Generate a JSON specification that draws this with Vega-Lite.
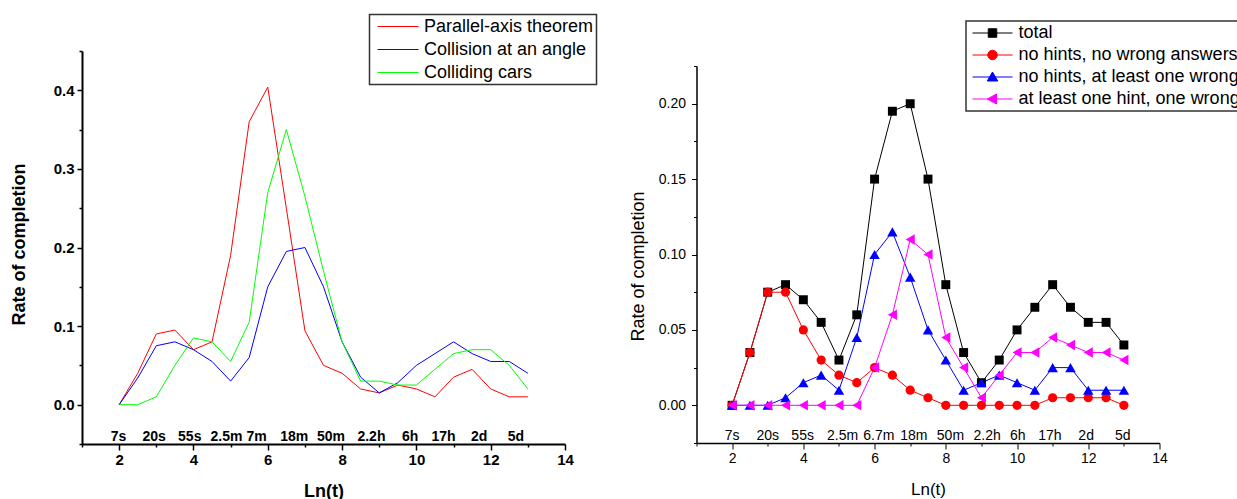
{
  "$schema": "https://vega.github.io/schema/vega-lite/v6.json",
  "padding": {"left": 10, "top": 13, "right": 0, "bottom": 0},
  "spacing": 30.5,
  "resolve": {"scale": {"color": "independent", "x": "independent", "y": "independent"}, "legend": {"color": "independent"}},
  "config": {
    "view": {"stroke": null},
    "font": "Liberation Sans",
    "axis": {"grid": false, "domainColor": "black", "tickColor": "black", "labelColor": "black", "titleColor": "black", "labelOverlap": false, "labelFlush": false}
  },
  "datasets": {
    "left": [
      {"x": 2, "series": "Parallel-axis theorem", "rate": 0},
      {"x": 2.5, "series": "Parallel-axis theorem", "rate": 0.04},
      {"x": 3, "series": "Parallel-axis theorem", "rate": 0.09},
      {"x": 3.5, "series": "Parallel-axis theorem", "rate": 0.095},
      {"x": 4, "series": "Parallel-axis theorem", "rate": 0.07},
      {"x": 4.5, "series": "Parallel-axis theorem", "rate": 0.08},
      {"x": 5, "series": "Parallel-axis theorem", "rate": 0.19},
      {"x": 5.5, "series": "Parallel-axis theorem", "rate": 0.36},
      {"x": 6, "series": "Parallel-axis theorem", "rate": 0.404},
      {"x": 6.5, "series": "Parallel-axis theorem", "rate": 0.25},
      {"x": 7, "series": "Parallel-axis theorem", "rate": 0.094},
      {"x": 7.5, "series": "Parallel-axis theorem", "rate": 0.05},
      {"x": 8, "series": "Parallel-axis theorem", "rate": 0.04},
      {"x": 8.5, "series": "Parallel-axis theorem", "rate": 0.02},
      {"x": 9, "series": "Parallel-axis theorem", "rate": 0.015},
      {"x": 9.5, "series": "Parallel-axis theorem", "rate": 0.025},
      {"x": 10, "series": "Parallel-axis theorem", "rate": 0.02},
      {"x": 10.5, "series": "Parallel-axis theorem", "rate": 0.01},
      {"x": 11, "series": "Parallel-axis theorem", "rate": 0.035},
      {"x": 11.5, "series": "Parallel-axis theorem", "rate": 0.045},
      {"x": 12, "series": "Parallel-axis theorem", "rate": 0.02},
      {"x": 12.5, "series": "Parallel-axis theorem", "rate": 0.01},
      {"x": 13, "series": "Parallel-axis theorem", "rate": 0.01},
      {"x": 2, "series": "Collision at an angle", "rate": 0},
      {"x": 2.5, "series": "Collision at an angle", "rate": 0.034},
      {"x": 3, "series": "Collision at an angle", "rate": 0.075},
      {"x": 3.5, "series": "Collision at an angle", "rate": 0.08},
      {"x": 4, "series": "Collision at an angle", "rate": 0.07},
      {"x": 4.5, "series": "Collision at an angle", "rate": 0.055},
      {"x": 5, "series": "Collision at an angle", "rate": 0.03},
      {"x": 5.5, "series": "Collision at an angle", "rate": 0.06},
      {"x": 6, "series": "Collision at an angle", "rate": 0.15},
      {"x": 6.5, "series": "Collision at an angle", "rate": 0.195},
      {"x": 7, "series": "Collision at an angle", "rate": 0.2},
      {"x": 7.5, "series": "Collision at an angle", "rate": 0.15},
      {"x": 8, "series": "Collision at an angle", "rate": 0.08},
      {"x": 8.5, "series": "Collision at an angle", "rate": 0.035},
      {"x": 9, "series": "Collision at an angle", "rate": 0.015},
      {"x": 9.5, "series": "Collision at an angle", "rate": 0.028},
      {"x": 10, "series": "Collision at an angle", "rate": 0.05},
      {"x": 10.5, "series": "Collision at an angle", "rate": 0.065},
      {"x": 11, "series": "Collision at an angle", "rate": 0.08},
      {"x": 11.5, "series": "Collision at an angle", "rate": 0.065},
      {"x": 12, "series": "Collision at an angle", "rate": 0.055},
      {"x": 12.5, "series": "Collision at an angle", "rate": 0.055},
      {"x": 13, "series": "Collision at an angle", "rate": 0.04},
      {"x": 2, "series": "Colliding cars", "rate": 0},
      {"x": 2.5, "series": "Colliding cars", "rate": 0},
      {"x": 3, "series": "Colliding cars", "rate": 0.01},
      {"x": 3.5, "series": "Colliding cars", "rate": 0.05},
      {"x": 4, "series": "Colliding cars", "rate": 0.085},
      {"x": 4.5, "series": "Colliding cars", "rate": 0.08},
      {"x": 5, "series": "Colliding cars", "rate": 0.055},
      {"x": 5.5, "series": "Colliding cars", "rate": 0.105},
      {"x": 6, "series": "Colliding cars", "rate": 0.27},
      {"x": 6.5, "series": "Colliding cars", "rate": 0.35},
      {"x": 7, "series": "Colliding cars", "rate": 0.265},
      {"x": 7.5, "series": "Colliding cars", "rate": 0.17},
      {"x": 8, "series": "Colliding cars", "rate": 0.08},
      {"x": 8.5, "series": "Colliding cars", "rate": 0.03},
      {"x": 9, "series": "Colliding cars", "rate": 0.03},
      {"x": 9.5, "series": "Colliding cars", "rate": 0.025},
      {"x": 10, "series": "Colliding cars", "rate": 0.025},
      {"x": 10.5, "series": "Colliding cars", "rate": 0.045},
      {"x": 11, "series": "Colliding cars", "rate": 0.065},
      {"x": 11.5, "series": "Colliding cars", "rate": 0.07},
      {"x": 12, "series": "Colliding cars", "rate": 0.07},
      {"x": 12.5, "series": "Colliding cars", "rate": 0.05},
      {"x": 13, "series": "Colliding cars", "rate": 0.02}
    ],
    "leftLabels": [
      {"x": 1.98, "label": "7s"}, {"x": 2.94, "label": "20s"}, {"x": 3.9, "label": "55s"},
      {"x": 4.89, "label": "2.5m"}, {"x": 5.7, "label": "7m"}, {"x": 6.71, "label": "18m"},
      {"x": 7.7, "label": "50m"}, {"x": 8.79, "label": "2.2h"}, {"x": 9.83, "label": "6h"},
      {"x": 10.73, "label": "17h"}, {"x": 11.69, "label": "2d"}, {"x": 12.68, "label": "5d"}
    ],
    "right": [
      {"x": 2, "series": "total", "rate": 0},
      {"x": 2.5, "series": "total", "rate": 0.035},
      {"x": 3, "series": "total", "rate": 0.075},
      {"x": 3.5, "series": "total", "rate": 0.08},
      {"x": 4, "series": "total", "rate": 0.07},
      {"x": 4.5, "series": "total", "rate": 0.055},
      {"x": 5, "series": "total", "rate": 0.03},
      {"x": 5.5, "series": "total", "rate": 0.06},
      {"x": 6, "series": "total", "rate": 0.15},
      {"x": 6.5, "series": "total", "rate": 0.195},
      {"x": 7, "series": "total", "rate": 0.2},
      {"x": 7.5, "series": "total", "rate": 0.15},
      {"x": 8, "series": "total", "rate": 0.08},
      {"x": 8.5, "series": "total", "rate": 0.035},
      {"x": 9, "series": "total", "rate": 0.015},
      {"x": 9.5, "series": "total", "rate": 0.03},
      {"x": 10, "series": "total", "rate": 0.05},
      {"x": 10.5, "series": "total", "rate": 0.065},
      {"x": 11, "series": "total", "rate": 0.08},
      {"x": 11.5, "series": "total", "rate": 0.065},
      {"x": 12, "series": "total", "rate": 0.055},
      {"x": 12.5, "series": "total", "rate": 0.055},
      {"x": 13, "series": "total", "rate": 0.04},
      {"x": 2, "series": "no hints, no wrong answers", "rate": 0},
      {"x": 2.5, "series": "no hints, no wrong answers", "rate": 0.035},
      {"x": 3, "series": "no hints, no wrong answers", "rate": 0.075},
      {"x": 3.5, "series": "no hints, no wrong answers", "rate": 0.075},
      {"x": 4, "series": "no hints, no wrong answers", "rate": 0.05},
      {"x": 4.5, "series": "no hints, no wrong answers", "rate": 0.03},
      {"x": 5, "series": "no hints, no wrong answers", "rate": 0.02},
      {"x": 5.5, "series": "no hints, no wrong answers", "rate": 0.015},
      {"x": 6, "series": "no hints, no wrong answers", "rate": 0.025},
      {"x": 6.5, "series": "no hints, no wrong answers", "rate": 0.02},
      {"x": 7, "series": "no hints, no wrong answers", "rate": 0.01},
      {"x": 7.5, "series": "no hints, no wrong answers", "rate": 0.005},
      {"x": 8, "series": "no hints, no wrong answers", "rate": 0},
      {"x": 8.5, "series": "no hints, no wrong answers", "rate": 0},
      {"x": 9, "series": "no hints, no wrong answers", "rate": 0},
      {"x": 9.5, "series": "no hints, no wrong answers", "rate": 0},
      {"x": 10, "series": "no hints, no wrong answers", "rate": 0},
      {"x": 10.5, "series": "no hints, no wrong answers", "rate": 0},
      {"x": 11, "series": "no hints, no wrong answers", "rate": 0.005},
      {"x": 11.5, "series": "no hints, no wrong answers", "rate": 0.005},
      {"x": 12, "series": "no hints, no wrong answers", "rate": 0.005},
      {"x": 12.5, "series": "no hints, no wrong answers", "rate": 0.005},
      {"x": 13, "series": "no hints, no wrong answers", "rate": 0},
      {"x": 2, "series": "no hints, at least one wrong", "rate": 0},
      {"x": 2.5, "series": "no hints, at least one wrong", "rate": 0},
      {"x": 3, "series": "no hints, at least one wrong", "rate": 0},
      {"x": 3.5, "series": "no hints, at least one wrong", "rate": 0.005},
      {"x": 4, "series": "no hints, at least one wrong", "rate": 0.015},
      {"x": 4.5, "series": "no hints, at least one wrong", "rate": 0.02},
      {"x": 5, "series": "no hints, at least one wrong", "rate": 0.01},
      {"x": 5.5, "series": "no hints, at least one wrong", "rate": 0.045},
      {"x": 6, "series": "no hints, at least one wrong", "rate": 0.1},
      {"x": 6.5, "series": "no hints, at least one wrong", "rate": 0.115},
      {"x": 7, "series": "no hints, at least one wrong", "rate": 0.085},
      {"x": 7.5, "series": "no hints, at least one wrong", "rate": 0.05},
      {"x": 8, "series": "no hints, at least one wrong", "rate": 0.03},
      {"x": 8.5, "series": "no hints, at least one wrong", "rate": 0.01},
      {"x": 9, "series": "no hints, at least one wrong", "rate": 0.015},
      {"x": 9.5, "series": "no hints, at least one wrong", "rate": 0.02},
      {"x": 10, "series": "no hints, at least one wrong", "rate": 0.015},
      {"x": 10.5, "series": "no hints, at least one wrong", "rate": 0.01},
      {"x": 11, "series": "no hints, at least one wrong", "rate": 0.025},
      {"x": 11.5, "series": "no hints, at least one wrong", "rate": 0.025},
      {"x": 12, "series": "no hints, at least one wrong", "rate": 0.01},
      {"x": 12.5, "series": "no hints, at least one wrong", "rate": 0.01},
      {"x": 13, "series": "no hints, at least one wrong", "rate": 0.01},
      {"x": 2, "series": "at least one hint, one wrong", "rate": 0},
      {"x": 2.5, "series": "at least one hint, one wrong", "rate": 0},
      {"x": 3, "series": "at least one hint, one wrong", "rate": 0},
      {"x": 3.5, "series": "at least one hint, one wrong", "rate": 0},
      {"x": 4, "series": "at least one hint, one wrong", "rate": 0},
      {"x": 4.5, "series": "at least one hint, one wrong", "rate": 0},
      {"x": 5, "series": "at least one hint, one wrong", "rate": 0},
      {"x": 5.5, "series": "at least one hint, one wrong", "rate": 0},
      {"x": 6, "series": "at least one hint, one wrong", "rate": 0.025},
      {"x": 6.5, "series": "at least one hint, one wrong", "rate": 0.06},
      {"x": 7, "series": "at least one hint, one wrong", "rate": 0.11},
      {"x": 7.5, "series": "at least one hint, one wrong", "rate": 0.1},
      {"x": 8, "series": "at least one hint, one wrong", "rate": 0.045},
      {"x": 8.5, "series": "at least one hint, one wrong", "rate": 0.025},
      {"x": 9, "series": "at least one hint, one wrong", "rate": 0.005},
      {"x": 9.5, "series": "at least one hint, one wrong", "rate": 0.02},
      {"x": 10, "series": "at least one hint, one wrong", "rate": 0.035},
      {"x": 10.5, "series": "at least one hint, one wrong", "rate": 0.035},
      {"x": 11, "series": "at least one hint, one wrong", "rate": 0.045},
      {"x": 11.5, "series": "at least one hint, one wrong", "rate": 0.04},
      {"x": 12, "series": "at least one hint, one wrong", "rate": 0.035},
      {"x": 12.5, "series": "at least one hint, one wrong", "rate": 0.035},
      {"x": 13, "series": "at least one hint, one wrong", "rate": 0.03}
    ],
    "rightLabels": [
      {"x": 2.0, "label": "7s"}, {"x": 3.0, "label": "20s"}, {"x": 3.98, "label": "55s"},
      {"x": 5.1, "label": "2.5m"}, {"x": 6.12, "label": "6.7m"}, {"x": 7.1, "label": "18m"},
      {"x": 8.13, "label": "50m"}, {"x": 9.16, "label": "2.2h"}, {"x": 10.02, "label": "6h"},
      {"x": 10.92, "label": "17h"}, {"x": 11.94, "label": "2d"}, {"x": 12.97, "label": "5d"}
    ]
  },
  "hconcat": [
    {
      "width": 483,
      "height": 393,
      "resolve": {"scale": {"x": "independent", "y": "independent"}, "axis": {"x": "independent", "y": "independent"}},
      "layer": [
        {
          "data": {"name": "left"},
          "mark": {"type": "line", "strokeWidth": 1},
          "encoding": {
            "x": {
              "field": "x", "type": "quantitative",
              "scale": {"domain": [1, 14], "nice": false, "zero": false},
              "axis": {
                "orient": "bottom", "title": "Ln(t)",
                "values": [2, 4, 6, 8, 10, 12, 14], "format": "d",
                "tickSize": 6, "tickWidth": 1.5, "domainWidth": 2,
                "labelFontSize": 15, "labelFontWeight": "bold", "labelPadding": 2,
                "titleFontSize": 18, "titleFontWeight": "bold", "titleY": 47, "titleBaseline": "middle"
              }
            },
            "y": {
              "field": "rate", "type": "quantitative",
              "scale": {"domain": [-0.05, 0.45], "nice": false, "zero": false},
              "axis": {
                "orient": "left", "title": "Rate of completion",
                "values": [0, 0.1, 0.2, 0.3, 0.4], "format": ".1f",
                "tickSize": 5, "tickWidth": 1.5, "domainWidth": 2,
                "labelFontSize": 15, "labelFontWeight": "bold", "labelPadding": 3,
                "titleFontSize": 18, "titleFontWeight": "bold", "titleX": -63, "titleY": 193,
                "titleAngle": 270, "titleBaseline": "middle", "titleAlign": "center"
              }
            },
            "color": {
              "field": "series", "type": "nominal",
              "scale": {"domain": ["Parallel-axis theorem", "Collision at an angle", "Colliding cars"], "range": ["#ff0000", "#0000ff", "#00ff00"]},
              "legend": {
                "orient": "none", "legendX": 287.5, "legendY": -36.5, "title": null,
                "padding": 3, "rowPadding": 5, "labelFontSize": 18, "labelFont": "Liberation Sans", "labelColor": "black",
                "strokeColor": "#333333", "symbolSize": 100, "symbolOffset": 16.5, "labelOffset": 17,
                "symbolType": "M-4.1,0H4.1", "symbolStrokeWidth": 1, "labelLimit": 400,
                "encode": {
                  "symbols": {"update": {
                    "stroke": {"signal": "datum.value === 'Parallel-axis theorem' ? '#ff0000' : datum.value === 'Collision at an angle' ? '#0000ff' : '#00ff00'"},
                    "fill": {"value": "transparent"},
                    "strokeWidth": {"value": 1}
                  }},
                  "legend": {"update": {"strokeWidth": {"value": 1.5}}}
                }
              }
            }
          }
        },
        {
          "data": {"name": "leftLabels"},
          "mark": {"type": "text", "fontSize": 14, "fontWeight": "bold", "baseline": "alphabetic", "align": "center", "color": "black"},
          "encoding": {
            "x": {
              "field": "x", "type": "quantitative",
              "scale": {"domain": [1, 14], "nice": false, "zero": false},
              "axis": {"orient": "bottom", "values": [1, 3, 5, 7, 9, 11, 13], "labels": false, "domain": false, "title": null, "tickSize": 3, "tickWidth": 1.5}
            },
            "y": {
              "datum": -0.0468, "type": "quantitative",
              "scale": {"domain": [-0.05, 0.45], "nice": false, "zero": false},
              "axis": {"orient": "left", "values": [-0.05, 0.05, 0.15, 0.25, 0.35, 0.45], "labels": false, "domain": false, "title": null, "tickSize": 3, "tickWidth": 1.5}
            },
            "text": {"field": "label"}
          }
        }
      ]
    },
    {
      "width": 463,
      "height": 392,
      "resolve": {"scale": {"x": "independent", "y": "independent"}, "axis": {"x": "independent", "y": "independent"}},
      "layer": [
        {
          "layer": [
            {
              "data": {"name": "right"},
              "mark": {"type": "line", "strokeWidth": 1},
              "encoding": {
                "x": {
                  "field": "x", "type": "quantitative",
                  "scale": {"domain": [1, 14], "nice": false, "zero": false},
                  "axis": {
                    "orient": "bottom", "title": "Ln(t)",
                    "values": [2, 4, 6, 8, 10, 12, 14], "format": "d",
                    "tickSize": 6, "tickWidth": 1, "domainWidth": 1.5,
                    "labelFontSize": 14, "labelPadding": 2,
                    "titleFontSize": 17, "titleFontWeight": "normal", "titleY": 46, "titleBaseline": "middle"
                  }
                },
                "y": {
                  "field": "rate", "type": "quantitative",
                  "scale": {"domain": [-0.025, 0.225], "range": [392, 15], "nice": false, "zero": false},
                  "axis": {
                    "orient": "left", "title": "Rate of completion",
                    "values": [0, 0.05, 0.1, 0.15, 0.2], "format": ".2f",
                    "tickSize": 5, "tickWidth": 1, "domainWidth": 1.5,
                    "labelFontSize": 14, "labelPadding": 6,
                    "titleFontSize": 18, "titleFontWeight": "normal", "titleX": -58.5, "titleY": 215,
                    "titleAngle": 270, "titleBaseline": "middle", "titleAlign": "center"
                  }
                },
                "color": {
                  "field": "series", "type": "nominal",
                  "scale": {"domain": ["total", "no hints, no wrong answers", "no hints, at least one wrong", "at least one hint, one wrong"], "range": ["#000000", "#ff0000", "#0000ff", "#ff00ff"]},
                  "legend": {
                    "orient": "none", "legendX": 269.5, "legendY": -30, "title": null,
                    "padding": 3, "rowPadding": 4, "labelFontSize": 18, "labelFont": "Liberation Sans", "labelColor": "black",
                    "strokeColor": "#333333", "symbolSize": 100, "symbolOffset": 14.5, "labelOffset": 17,
                    "symbolStrokeWidth": 1, "labelLimit": 400,
                    "encode": {
                      "symbols": {"update": {
                        "shape": {"signal": "datum.value === 'total' ? 'M-4,0H4M-0.85,-0.85H0.85V0.85H-0.85Z' : datum.value === 'no hints, no wrong answers' ? 'M-4,0H4M-0.95,0A0.95,0.95,0,1,0,0.95,0A0.95,0.95,0,1,0,-0.95,0Z' : datum.value === 'no hints, at least one wrong' ? 'M-4,0H4M0,-1L1.05,0.8L-1.05,0.8Z' : 'M-4,0H4M-1.05,0L0.8,-1L0.8,1Z'"},
                        "stroke": {"signal": "datum.value === 'total' ? '#000000' : datum.value === 'no hints, no wrong answers' ? '#ff0000' : datum.value === 'no hints, at least one wrong' ? '#0000ff' : '#ff00ff'"},
                        "fill": {"signal": "datum.value === 'total' ? '#000000' : datum.value === 'no hints, no wrong answers' ? '#ff0000' : datum.value === 'no hints, at least one wrong' ? '#0000ff' : '#ff00ff'"},
                        "strokeWidth": {"value": 1},
                        "opacity": {"value": 1}
                      }},
                      "legend": {"update": {"strokeWidth": {"value": 1.5}}}
                    }
                  }
                }
              }
            },
            {
              "data": {"name": "right"},
              "transform": [{"filter": "datum.series === 'total'"}],
              "mark": {"type": "point", "filled": true, "opacity": 1, "shape": "square", "size": 80, "color": "#000000"},
              "encoding": {
                "x": {"field": "x", "type": "quantitative"},
                "y": {"field": "rate", "type": "quantitative"}
              }
            },
            {
              "data": {"name": "right"},
              "transform": [{"filter": "datum.series === 'no hints, no wrong answers'"}],
              "mark": {"type": "point", "filled": true, "opacity": 1, "shape": "circle", "size": 85, "color": "#ff0000"},
              "encoding": {
                "x": {"field": "x", "type": "quantitative"},
                "y": {"field": "rate", "type": "quantitative"}
              }
            },
            {
              "data": {"name": "right"},
              "transform": [{"filter": "datum.series === 'no hints, at least one wrong'"}],
              "mark": {"type": "point", "filled": true, "opacity": 1, "shape": "triangle-up", "size": 110, "color": "#0000ff"},
              "encoding": {
                "x": {"field": "x", "type": "quantitative"},
                "y": {"field": "rate", "type": "quantitative"}
              }
            },
            {
              "data": {"name": "right"},
              "transform": [{"filter": "datum.series === 'at least one hint, one wrong'"}],
              "mark": {"type": "point", "filled": true, "opacity": 1, "shape": "triangle-left", "size": 110, "color": "#ff00ff"},
              "encoding": {
                "x": {"field": "x", "type": "quantitative"},
                "y": {"field": "rate", "type": "quantitative"}
              }
            }
          ]
        },
        {
          "data": {"name": "rightLabels"},
          "mark": {"type": "text", "fontSize": 14, "baseline": "alphabetic", "align": "center", "color": "black"},
          "encoding": {
            "x": {
              "field": "x", "type": "quantitative",
              "scale": {"domain": [1, 14], "nice": false, "zero": false},
              "axis": {"orient": "bottom", "values": [1, 3, 5, 7, 9, 11, 13], "labels": false, "domain": false, "title": null, "tickSize": 3, "tickWidth": 1}
            },
            "y": {
              "datum": -0.0233, "type": "quantitative",
              "scale": {"domain": [-0.025, 0.225], "range": [392, 15], "nice": false, "zero": false},
              "axis": {"orient": "left", "values": [-0.025, 0.025, 0.075, 0.125, 0.175, 0.225], "labels": false, "domain": false, "title": null, "tickSize": 3, "tickWidth": 1}
            },
            "text": {"field": "label"}
          }
        }
      ]
    }
  ]
}
